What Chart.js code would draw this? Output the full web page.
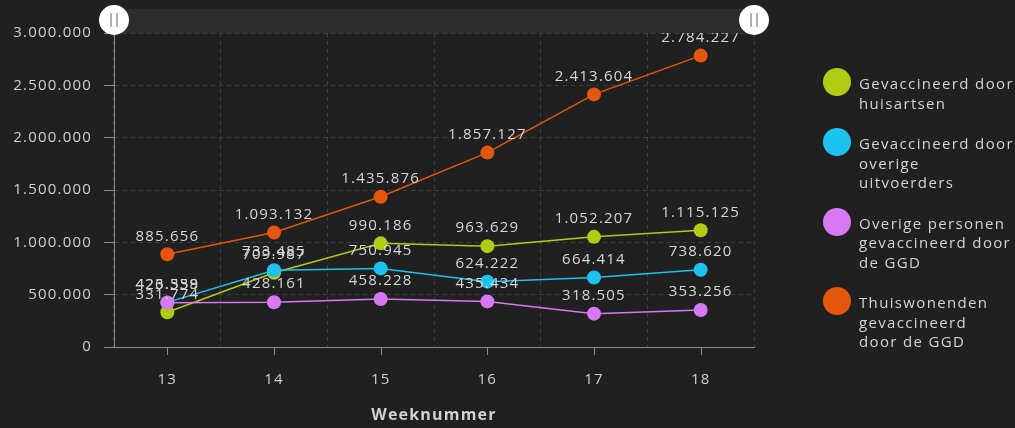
<!DOCTYPE html>
<html><head><meta charset="utf-8">
<script src="https://cdn.jsdelivr.net/npm/chart.js@4/dist/chart.umd.min.js"></script>
<style>
html,body{margin:0;padding:0;background:#202020;}
#wrap{position:relative;width:1015px;height:428px;overflow:hidden;}
#c{position:absolute;left:0;top:0;}
#legend{position:absolute;left:822px;top:74px;font-family:'Open Sans';font-size:15px;color:#d4d4d4;letter-spacing:1.35px;}
.item{position:relative;padding-left:37px;line-height:19.5px;margin-bottom:21px;white-space:nowrap;}
.dot{position:absolute;left:1px;top:-6px;width:28px;height:28px;border-radius:50%;}
</style></head>
<body>
<div id="wrap"><canvas id="c" width="1015" height="428"></canvas><div id="legend"></div></div>
<script>
const weeks = ['13','14','15','16','17','18'];
const huisartsen = [331774, 709987, 990186, 963629, 1052207, 1115125];
const overigeUitvoerders = [426339, 733485, 750945, 624222, 664414, 738620];
const overigePersonen = [423558, 428161, 458228, 435434, 318505, 353256];
const thuiswonenden = [885656, 1093132, 1435876, 1857127, 2413604, 2784227];
const yTicks = [0, 500000, 1000000, 1500000, 2000000, 2500000, 3000000];
const seriesLines = [
  ['Gevaccineerd door','huisartsen'],
  ['Gevaccineerd door','overige','uitvoerders'],
  ['Overige personen','gevaccineerd door','de GGD'],
  ['Thuiswonenden','gevaccineerd','door de GGD']
];
const seriesColors = ['#b2cb14','#1cc3f0','#d878f3','#e3560c'];
const seriesData = [huisartsen, overigeUitvoerders, overigePersonen, thuiswonenden];
const drawOrder = [3, 2, 1, 4];
const xTitle = 'Weeknummer';

function fmt(n){ return String(n).replace(/\B(?=(\d{3})+(?!\d))/g, '.'); }

Chart.defaults.font.family = "'Open Sans'";
Chart.defaults.font.size = 15;
Chart.defaults.color = '#cfcfcf';

const spacing = {
  id: 'spacing',
  beforeInit(c){ c.ctx.letterSpacing = '1.2px'; },
  beforeUpdate(c){ c.ctx.letterSpacing = '1.2px'; },
  beforeDraw(c){ c.ctx.letterSpacing = '1.2px'; }
};

const xTickMarks = {
  id: 'xTickMarks',
  afterDraw(c){
    const x = c.scales.x, ctx = c.ctx;
    ctx.save();
    ctx.strokeStyle = '#8a8a8a'; ctx.lineWidth = 1;
    weeks.forEach((w, i) => {
      const px = Math.round(x.getPixelForValue(i)) + 0.5;
      ctx.beginPath(); ctx.moveTo(px, x.top); ctx.lineTo(px, x.top + 8); ctx.stroke();
    });
    ctx.restore();
  }
};

const dataLabels = {
  id: 'dataLabels',
  afterDatasetsDraw(c){
    const ctx = c.ctx;
    ctx.save();
    ctx.font = "15px 'Open Sans'";
    ctx.letterSpacing = '1.2px';
    ctx.fillStyle = '#d6d6d6';
    ctx.textAlign = 'center';
    ctx.textBaseline = 'middle';
    c.data.datasets.forEach((ds, di) => {
      const meta = c.getDatasetMeta(di);
      meta.data.forEach((pt, i) => {
        ctx.fillText(fmt(ds.data[i]), pt.x, pt.y - 18);
      });
    });
    ctx.restore();
  }
};

const slider = {
  id: 'slider',
  afterDraw(c){
    const ctx = c.ctx, a = c.chartArea;
    const cy = 20;
    ctx.save();
    ctx.fillStyle = '#2c2c2c';
    ctx.fillRect(a.left, 9, a.right - a.left, 24);
    [a.left, a.right].forEach(hx => {
      ctx.beginPath(); ctx.arc(hx, cy, 15, 0, Math.PI*2);
      ctx.fillStyle = '#ffffff'; ctx.fill();
      ctx.strokeStyle = '#b0b0b0'; ctx.lineWidth = 2;
      [-3, 3].forEach(d => {
        ctx.beginPath(); ctx.moveTo(hx + d, cy - 7); ctx.lineTo(hx + d, cy + 7); ctx.stroke();
      });
    });
    ctx.restore();
  }
};

new Chart(document.getElementById('c'), {
  type: 'line',
  data: {
    labels: weeks,
    datasets: seriesData.map((d, i) => ({
      label: seriesLines[i].join(' '),
      data: d,
      borderColor: seriesColors[i],
      backgroundColor: seriesColors[i],
      pointBackgroundColor: seriesColors[i],
      pointBorderWidth: 0,
      pointRadius: 7,
      borderWidth: 1.5,
      tension: 0,
      order: drawOrder[i]
    }))
  },
  options: {
    responsive: false,
    animation: false,
    layout: { padding: { left: 0, right: 261, top: 33, bottom: 0 } },
    plugins: { legend: { display: false }, tooltip: { enabled: false } },
    scales: {
      x: {
        offset: true,
        afterFit(s){ s.height = 81; },
        grid: { offset: true, color: '#404040', drawTicks: false, lineWidth: 1 },
        border: { display: true, color: '#8a8a8a', width: 1, dash: [4, 4] },
        ticks: { padding: 24, color: '#cfcfcf', font: { size: 15 } },
        title: { display: true, text: xTitle, color: '#d2d2d2', font: { size: 16, weight: 'bold' }, padding: { top: 0, bottom: 3 } }
      },
      y: {
        min: 0, max: 3000000,
        afterFit(s){ s.width = 114; },
        afterBuildTicks(s){ s.ticks = yTicks.map(v => ({ value: v })); },
        grid: { color: '#404040', tickLength: 10, tickColor: '#8a8a8a', lineWidth: 1 },
        border: { display: true, color: '#8a8a8a', width: 1, dash: [4, 4] },
        ticks: { padding: 12, color: '#cfcfcf', font: { size: 15 }, callback: v => fmt(v) }
      }
    }
  },
  plugins: [spacing, xTickMarks, dataLabels, slider]
});

const leg = document.getElementById('legend');
seriesLines.forEach((lines, i) => {
  const it = document.createElement('div'); it.className = 'item';
  const dot = document.createElement('span'); dot.className = 'dot'; dot.style.background = seriesColors[i];
  it.appendChild(dot);
  lines.forEach((l, j) => { if (j) it.appendChild(document.createElement('br')); it.appendChild(document.createTextNode(l)); });
  leg.appendChild(it);
});
</script>
</body></html>
